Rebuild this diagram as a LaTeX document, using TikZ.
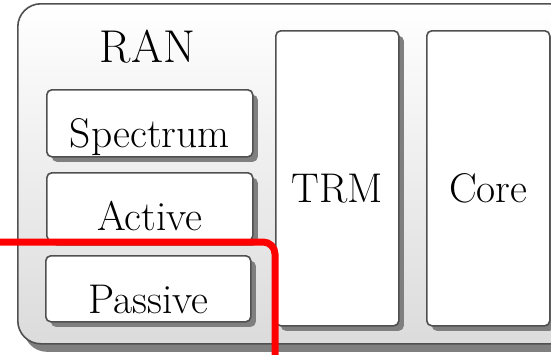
\documentclass[tikz,border=0pt]{standalone}
\usetikzlibrary{shadows}

\definecolor{edgegray}{HTML}{505050}
\definecolor{shadegray}{HTML}{7F7F7F}

\begin{document}
\begin{tikzpicture}[x=1pt,y=-1pt,
  outerbox/.style={draw=edgegray, line width=1.6pt, rounded corners=23pt,
    top color=white, bottom color=black!14, anchor=north west,
    drop shadow={shadow xshift=6pt, shadow yshift=-8pt, fill=shadegray, opacity=1}},
  panel/.style={draw=edgegray, line width=1.6pt, rounded corners=5pt,
    fill=white, anchor=north west, inner sep=0pt,
    drop shadow={shadow xshift=5pt, shadow yshift=-5pt, fill=shadegray, opacity=1}},
  lbl/.style={anchor=base, inner sep=0pt, font=\fontsize{41.5}{48}\selectfont},
  cut/.style={draw=red, line width=7pt, rounded corners=12pt}
]
\useasboundingbox (0,0) rectangle (551,354);

% enclosing RAN area (runs off to the right)
\node[outerbox, minimum width=570pt, minimum height=340pt] (ran) at (17,3) {};

% RAN sub-blocks
\node[panel, minimum width=206pt, minimum height=67pt] (spec) at (46,89) {};
\node[panel, minimum width=206pt, minimum height=68pt] (act) at (46,172) {};
\node[panel, minimum width=205pt, minimum height=66pt] (pas) at (45,255) {};

% transport and core columns
\node[panel, minimum width=123pt, minimum height=295pt] (trm) at (275,30) {};
\node[panel, minimum width=123pt, minimum height=295pt] (core) at (426,30) {};

% labels
\node[lbl, font=\fontsize{46}{54}\selectfont] (ranlbl) at (147.5,62) {RAN};
\node[lbl] (speclbl) at (spec.north |- 0,147) {Spectrum};
\node[lbl] (actlbl) at (act.north |- 0,230) {Active};
\node[lbl] (paslbl) at (pas.north |- 0,313) {Passive};
\node[lbl] (trmlbl) at (trm.north |- 0,202) {TRM};
\node[lbl] (corelbl) at (core.north |- 0,202) {Core};

% red boundary line
\coordinate (cutstart) at (0,242);
\coordinate (cutend) at (275,360);
\draw[cut] (cutstart) -- (cutend |- cutstart) -- (cutend);
\end{tikzpicture}
\end{document}
